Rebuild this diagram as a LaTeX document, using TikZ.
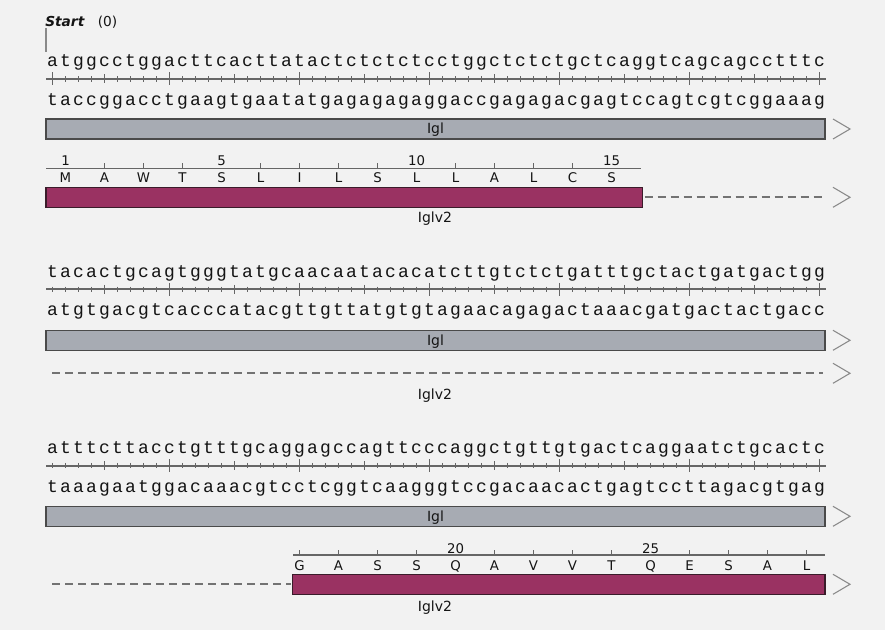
\documentclass[tikz,border=0pt]{standalone}
\usepackage{fontspec}
\setmainfont{DejaVu Sans}
\newfontfamily\dnafont{Liberation Mono}
\definecolor{bg}{HTML}{F2F2F2}
\definecolor{rulegray}{HTML}{666666}
\definecolor{barfill}{HTML}{A7ABB3}
\definecolor{barline}{HTML}{4A4A4A}
\definecolor{cdsfill}{HTML}{9A3262}
\definecolor{cdsline}{HTML}{3A1C2A}
\definecolor{dashgray}{HTML}{737373}
\definecolor{chevgray}{HTML}{8A8A8A}
\definecolor{txt}{HTML}{141414}
\newcount\seqpos
\def\seqrow#1#2#3{\seqpos=0 \def\seqy{#1}\def\seqid{#2}\seqloop#3\relax}
\def\seqloop#1{\ifx\relax#1\else\advance\seqpos by 1
  \node[dna] (\seqid\the\seqpos) at ({46+13*(\the\seqpos-0.5)},\seqy) {#1};%
  \expandafter\seqloop\fi}
\tikzset{
  dna/.style={font=\dnafont\fontsize{13.5pt}{13.5pt}\selectfont, anchor=base, inner sep=0pt, text=txt},
  aa/.style={font=\fontsize{10pt}{10pt}\selectfont, anchor=base, inner sep=0pt, text=txt},
  featlabel/.style={font=\fontsize{10.5pt}{10.5pt}\selectfont, anchor=base, inner sep=0pt, text=txt},
  dnaruler/.style={draw=rulegray, line width=1.5pt},
  dnatick/.style={draw=rulegray, line width=1.3pt},
  aaruler/.style={draw=rulegray, line width=0.8pt},
  iglbar/.style={draw=barline, fill=barfill, line width=0.9pt},
  cdsbar/.style={draw=cdsline, fill=cdsfill, line width=0.9pt},
  gapline/.style={draw=dashgray, line width=1.5pt, dash pattern=on 6pt off 3.75pt},
  chev/.style={draw=chevgray, line width=0.8pt},
}
% #1 ruler y, #2 id, #3 top strand, #4 bottom strand, #5 first tick big (1/0)
\newcommand{\dnablock}[5]{%
  \seqrow{#1-12}{#2t}{#3}%
  \seqrow{#1+26.5}{#2b}{#4}%
  \draw[dnaruler] (46,#1) -- (825.5,#1);
  \foreach \i in {1,...,60}{
    \pgfmathsetmacro\h{ifthenelse(mod(\i,10)==0,6.5,ifthenelse(mod(\i,5)==0,4.5,2.8))}
    \pgfmathsetmacro\h{ifthenelse(and(\i==1,#5==1),6.5,\h)}
    \draw[dnatick] ({46+13*(\i-0.5)},{#1-\h}) -- ({46+13*(\i-0.5)},{#1+\h});
  }
}
\begin{document}
\begin{tikzpicture}[x=0.75pt,y=-0.75pt]
\useasboundingbox (0,0) rectangle (885,630);
\fill[bg] (0,0) rectangle (885,630);

% start marker
\node[anchor=base west, inner sep=0pt, font=\fontsize{10.3pt}{10.3pt}\selectfont\bfseries\itshape, text=txt] (start) at (45,26.7) {Start};
\node[anchor=base west, inner sep=0pt, font=\fontsize{10.3pt}{10.3pt}\selectfont, text=txt] (startpos) at (97.5,26.7) {(0)};
\coordinate (mk1) at (46,28.5);
\coordinate (mk2) at (46,52);
\draw[draw=chevgray, line width=0.8pt] (mk1) -- (mk2);

% ---------------- line 1 ----------------
\dnablock{79}{a}{atggcctggacttcacttatactctctctcctggctctctgctcaggtcagcagcctttc}{taccggacctgaagtgaatatgagagagaggaccgagagacgagtccagtcgtcggaaag}{1}
\draw[iglbar] (46,119) rectangle (825,139);
\node[featlabel] (igl1) at (435.5,134) {Igl};
\draw[chev] (833,119) -- (850,129) -- (833,139);

\draw[aaruler] (46,168.3) -- (641.3,168.3);
\foreach \a [count=\i] in {M,A,W,T,S,L,I,L,S,L,L,A,L,C,S}{
  \pgfmathsetmacro\xx{65.5+39*(\i-1)}
  \node[aa] (p1a\i) at (\xx,182.7) {\a};
  \pgfmathtruncatemacro\num{\i}
  \ifnum\num=1 \node[aa] (p1n\i) at (\xx,166) {1};
  \else\pgfmathtruncatemacro\md{mod(\i,5)}
    \ifnum\md=0 \node[aa] (p1n\i) at (\xx,166) {\num};
    \else \draw[aaruler] (\xx,168.3) -- (\xx,163.3);\fi
  \fi
}
\draw[cdsbar] (46,187.3) rectangle (642.7,207.3);
\draw[gapline] (644.5,196.8) -- (823,196.8);
\draw[chev] (833,187.3) -- (850,197.3) -- (833,207.3);
\node[featlabel] (iglv1) at (435,223) {Iglv2};

% ---------------- line 2 ----------------
\dnablock{289.4}{b}{tacactgcagtgggtatgcaacaatacacatcttgtctctgatttgctactgatgactgg}{atgtgacgtcacccatacgttgttatgtgtagaacagagactaaacgatgactactgacc}{0}
\draw[iglbar] (46,330.3) rectangle (825,350.3);
\node[featlabel] (igl2) at (435.5,345.3) {Igl};
\draw[chev] (833,330.3) -- (850,340.3) -- (833,350.3);
\draw[gapline] (52,373.3) -- (823,373.3);
\draw[chev] (833,363.3) -- (850,373.3) -- (833,383.3);
\node[featlabel] (iglv2) at (435,399.5) {Iglv2};

% ---------------- line 3 ----------------
\dnablock{465.7}{c}{atttcttacctgtttgcaggagccagttcccaggctgttgtgactcaggaatctgcactc}{taaagaatggacaaacgtcctcggtcaagggtccgacaacactgagtccttagacgtgag}{0}
\draw[iglbar] (46,506.3) rectangle (825,526.3);
\node[featlabel] (igl3) at (435.5,521.3) {Igl};
\draw[chev] (833,506.3) -- (850,516.3) -- (833,526.3);

\draw[aaruler] (293,555) -- (825,555);
\foreach \a [count=\i] in {G,A,S,S,Q,A,V,V,T,Q,E,S,A,L}{
  \pgfmathsetmacro\xx{299.5+39*(\i-1)}
  \node[aa] (p3a\i) at (\xx,570) {\a};
  \pgfmathtruncatemacro\num{\i+15}
  \pgfmathtruncatemacro\md{mod(\num,5)}
  \ifnum\md=0 \node[aa] (p3n\i) at (\xx,553) {\num};
  \else \draw[aaruler] (\xx,555) -- (\xx,550);\fi
}
\draw[gapline] (52,584.3) -- (291,584.3);
\draw[cdsbar] (292.3,574.3) rectangle (825,594.3);
\draw[chev] (833,574.3) -- (850,584.3) -- (833,594.3);
\node[featlabel] (iglv3) at (435,611) {Iglv2};
\end{tikzpicture}
\end{document}
